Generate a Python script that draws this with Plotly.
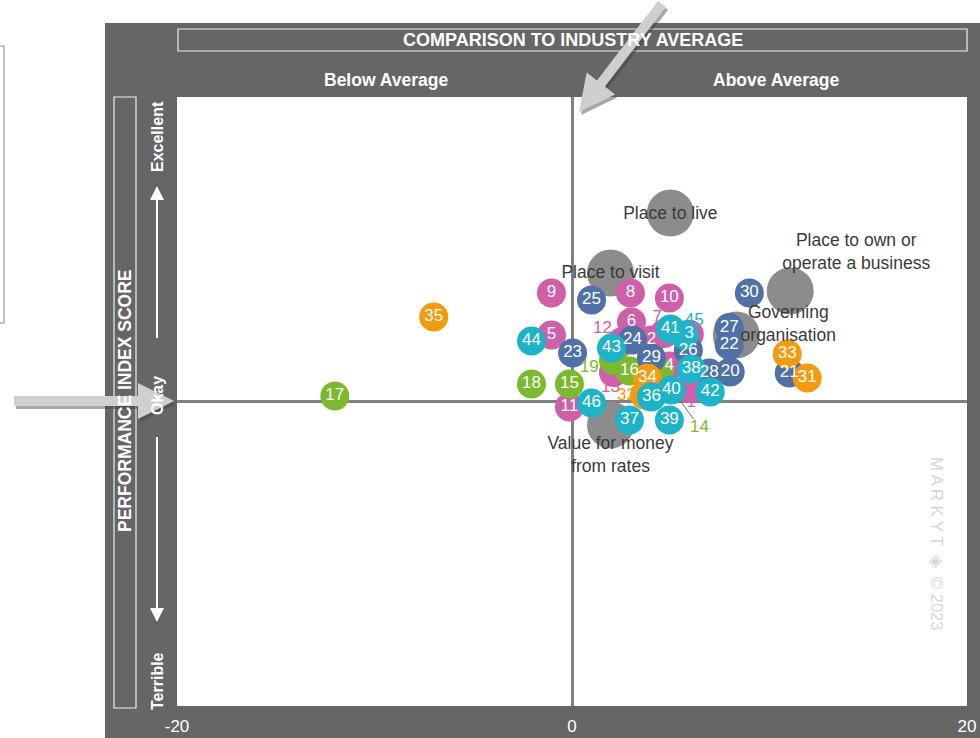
import math
import plotly.graph_objects as go

# ---------------- data ----------------
# category bubbles (grey)
cat_names = ["Place to live", "Place to visit", "Place to own or<br>operate a business",
             "Governing<br>organisation", "Value for money<br>from rates"]
cat_x = [4.98, 1.95, 11.05, 8.32, 1.95]
cat_y = [12.38, 8.44, 7.26, 4.37, -1.54]
cat_label_x = [4.98, 1.95, 14.39, 10.95, 1.95]
cat_label_y = [12.30, 8.40, 9.75, 5.00, -3.58]

# numbered items per group: ids, bubble x/y, label x/y (label equals bubble when drawn inside)
pink_ids = ["1", "2", "3", "4", "5", "6", "7", "8", "9", "10", "11", "12", "13"]
pink_x = [5.94, 4.02, 5.94, 4.93, -1.04, 3.01, 4.68, 2.96, -1.04, 4.93, -0.13, 2.50, 2.10]
pink_y = [0.89, 4.04, 4.42, 2.33, 4.37, 5.22, 4.47, 7.13, 7.13, 6.80, -0.36, 3.90, 1.90]
pink_lx = [6.04, 4.02, 5.94, 4.93, -1.04, 3.01, 4.32, 2.96, -1.04, 4.93, -0.13, 1.54, 1.95]
pink_ly = [-0.10, 4.04, 4.42, 2.33, 4.37, 5.22, 5.48, 7.13, 7.13, 6.80, -0.36, 4.76, 0.89]

green_ids = ["14", "15", "16", "17", "18", "19"]
green_x = [4.42, -0.13, 2.91, -12.01, -2.05, 2.10]
green_y = [1.91, 1.15, 2.00, 0.36, 1.15, 2.70]
green_lx = [6.45, -0.13, 2.91, -12.01, -2.05, 0.88]
green_ly = [-1.74, 1.15, 2.00, 0.36, 1.15, 2.20]

blue_ids = ["20", "21", "22", "23", "24", "25", "26", "27", "28", "29", "30"]
blue_x = [8.01, 11.00, 7.96, 0.03, 3.06, 0.99, 5.89, 7.96, 6.95, 4.02, 8.98]
blue_y = [1.94, 1.87, 3.70, 3.19, 4.04, 6.67, 3.36, 4.86, 1.87, 2.86, 7.13]
blue_lx = blue_x
blue_ly = blue_y

orange_ids = ["31", "32", "33", "34", "35"]
orange_x = [11.91, 3.67, 10.90, 3.82, -7.00]
orange_y = [1.54, 0.43, 3.12, 1.54, 5.55]
orange_lx = [11.91, 2.76, 10.90, 3.82, -7.00]
orange_ly = [1.54, 0.36, 3.12, 1.54, 5.55]

teal_ids = ["36", "37", "38", "39", "40", "41", "42", "43", "44", "45", "46"]
teal_x = [4.02, 2.91, 6.04, 4.93, 5.03, 4.98, 7.00, 2.00, -2.05, 5.69, 0.99]
teal_y = [0.30, -1.22, 2.13, -1.22, 0.76, 4.76, 0.62, 3.51, 3.97, 4.37, -0.10]
teal_lx = [4.02, 2.91, 6.04, 4.93, 5.03, 4.98, 7.00, 2.00, -2.05, 6.19, 0.99]
teal_ly = [0.30, -1.22, 2.13, -1.22, 0.76, 4.76, 0.62, 3.51, 3.97, 5.29, -0.10]

x_ticks = [-20, 0, 20]
x_tick_text = ["-20", "0", "20"]

# ---------------- style ----------------
W, H = 980, 738
ML, MR, MT, MB = 177, 13, 97, 32
PW, PH = W - ML - MR, H - MT - MB
PANEL = "#666666"
SANS = "Liberation Sans, Arial, sans-serif"


def px(xp):
    return (xp - ML) / PW


def py(yp):
    return (MT + PH - yp) / PH


fig = go.Figure()

# category bubbles
fig.add_trace(go.Scatter(x=cat_x, y=cat_y, mode="markers",
                         marker=dict(size=47, color="#8c8c8c", line=dict(width=0)),
                         hoverinfo="skip", showlegend=False))

groups = [
    (pink_ids, pink_x, pink_y, pink_lx, pink_ly, "#cf5fa8"),
    (green_ids, green_x, green_y, green_lx, green_ly, "#7db92f"),
    (blue_ids, blue_x, blue_y, blue_lx, blue_ly, "#4f71a8"),
    (orange_ids, orange_x, orange_y, orange_lx, orange_ly, "#f39a0f"),
    (teal_ids, teal_x, teal_y, teal_lx, teal_ly, "#1db4c9"),
]

# leader line for item 14
fig.add_trace(go.Scatter(x=[green_x[0], green_lx[0] - 0.3], y=[green_y[0], green_ly[0] + 0.6],
                         mode="lines", line=dict(color="#707070", width=1),
                         hoverinfo="skip", showlegend=False))

# bubbles
for ids, xs, ys, lxs, lys, col in groups:
    fig.add_trace(go.Scatter(x=xs, y=ys, mode="markers",
                             marker=dict(size=29, color=col, line=dict(width=0)),
                             hoverinfo="skip", showlegend=False))

# labels drawn above all bubbles
for ids, xs, ys, lxs, lys, col in groups:
    ix, iy, it, tx, ty, tt = [], [], [], [], [], []
    for t, x, y, lx, ly in zip(ids, xs, ys, lxs, lys):
        if lx == x and ly == y:
            ix.append(x); iy.append(y); it.append(t)
        else:
            tx.append(lx); ty.append(ly); tt.append(t)
    fig.add_trace(go.Scatter(x=ix, y=iy, mode="text", text=it, textposition="middle center",
                             textfont=dict(color="white", size=17, family=SANS),
                             hoverinfo="skip", showlegend=False))
    if tt:
        fig.add_trace(go.Scatter(x=tx, y=ty, mode="text", text=tt,
                                 textposition="middle center",
                                 textfont=dict(color=col, size=17, family=SANS),
                                 hoverinfo="skip", showlegend=False))

# category labels on top
fig.add_trace(go.Scatter(x=cat_label_x, y=cat_label_y, mode="text", text=cat_names,
                         textposition="middle center",
                         textfont=dict(color="#3a3a3a", size=17.5, family=SANS),
                         hoverinfo="skip", showlegend=False))

shapes = []
# dark panel
shapes.append(dict(type="rect", xref="paper", yref="paper", layer="below",
                   x0=px(105), x1=px(990), y0=py(745), y1=py(23),
                   fillcolor=PANEL, line=dict(width=0)))
# white plot area on top of the panel
shapes.append(dict(type="rect", xref="paper", yref="paper", layer="below",
                   x0=0, x1=1, y0=0, y1=1, fillcolor="white", line=dict(width=0)))
# left outer box
shapes.append(dict(type="rect", xref="paper", yref="paper", layer="below",
                   x0=px(-10), x1=px(4), y0=py(323), y1=py(46),
                   fillcolor="rgba(0,0,0,0)", line=dict(color="#8a8a8a", width=1)))
# title box
shapes.append(dict(type="rect", xref="paper", yref="paper", layer="above",
                   x0=px(178), x1=px(967), y0=py(51), y1=py(29),
                   fillcolor="rgba(0,0,0,0)", line=dict(color="#eeeeee", width=1.2)))
# y title box
shapes.append(dict(type="rect", xref="paper", yref="paper", layer="above",
                   x0=px(114), x1=px(136), y0=py(708), y1=py(97),
                   fillcolor="rgba(0,0,0,0)", line=dict(color="#eeeeee", width=1.2)))


def arrow_path(tail, tip, sw, hw, hl, dx=0, dy=0):
    (x0, y0), (x1, y1) = tail, tip
    L = math.hypot(x1 - x0, y1 - y0)
    ux, uy = (x1 - x0) / L, (y1 - y0) / L
    nx, ny = -uy, ux
    bx, by = x1 - ux * hl, y1 - uy * hl
    pts = [
        (x0 + nx * sw / 2, y0 + ny * sw / 2),
        (bx + nx * sw / 2, by + ny * sw / 2),
        (bx + nx * hw / 2, by + ny * hw / 2),
        (x1, y1),
        (bx - nx * hw / 2, by - ny * hw / 2),
        (bx - nx * sw / 2, by - ny * sw / 2),
        (x0 - nx * sw / 2, y0 - ny * sw / 2),
    ]
    return "M " + " L ".join(f"{px(a + dx):.5f},{py(b + dy):.5f}" for a, b in pts) + " Z"


for tail, tip in [((662, 4), (579, 112)), ((14, 401), (174, 401))]:
    shapes.append(dict(type="path", xref="paper", yref="paper", layer="above",
                       path=arrow_path(tail, tip, 10, 36, 36, 2, 3),
                       fillcolor="rgba(60,60,60,0.45)", line=dict(width=0)))
    shapes.append(dict(type="path", xref="paper", yref="paper", layer="above",
                       path=arrow_path(tail, tip, 10, 36, 36),
                       fillcolor="#cfcfcf", line=dict(width=0)))

# white vertical arrows on the left
for y0, y1 in [(338, 186), (437, 622)]:
    shapes.append(dict(type="line", xref="paper", yref="paper", layer="above",
                       x0=px(157), x1=px(157), y0=py(y0), y1=py(y1 + (8 if y1 < y0 else -8)),
                       line=dict(color="white", width=2)))

annotations = []
for yy0, yy1 in [(200, 186), (608, 622)]:
    annotations.append(dict(xref="paper", yref="paper", axref="pixel", ayref="pixel",
                            x=px(157), y=py(yy1), ax=0, ay=(yy0 - yy1),
                            showarrow=True, arrowhead=2, arrowsize=1.4, arrowwidth=2,
                            arrowcolor="white", text=""))


def ann(text, x, y, size, bold=True, angle=0, color="white", family=SANS):
    annotations.append(dict(xref="paper", yref="paper", x=px(x), y=py(y),
                            text=(f"<b>{text}</b>" if bold else text),
                            showarrow=False, textangle=angle, xanchor="center", yanchor="middle",
                            font=dict(size=size, color=color, family=family)))


ann("COMPARISON TO INDUSTRY AVERAGE", 573, 40, 18)
ann("Below Average", 386, 80, 17.5)
ann("Above Average", 776, 80, 17.5)
ann("PERFORMANCE INDEX SCORE", 125, 401, 17.5, angle=-90)
ann("Excellent", 157, 137, 16, angle=-90)
ann("Okay", 157, 396, 16, angle=-90)
ann("Terrible", 157, 681, 16, angle=-90)
ann("M A R K Y T  ◈  © 2023", 937, 543, 16.5, bold=False, angle=90, color="#d6d6d6")

fig.update_layout(
    width=W, height=H,
    margin=dict(l=ML, r=MR, t=MT, b=MB, pad=0, autoexpand=False),
    paper_bgcolor="white", plot_bgcolor="white",
    shapes=shapes, annotations=annotations,
    showlegend=False,
    xaxis=dict(range=[-20, 20], tickvals=x_ticks, ticktext=x_tick_text,
               showgrid=False, showline=False, ticks="", zeroline=True, automargin=False,
               zerolinecolor="#808080", zerolinewidth=3, ticklabelstandoff=8,
               tickfont=dict(color="white", size=17, family=SANS), fixedrange=True),
    yaxis=dict(range=[-20, 20], showticklabels=False, showgrid=False, showline=False,
               ticks="", zeroline=True, zerolinecolor="#808080", zerolinewidth=3,
               automargin=False, fixedrange=True),
)

fig.write_html("out.html", config={"displayModeBar": False},
               post_script="document.body.style.margin='0';document.body.style.padding='0';")
